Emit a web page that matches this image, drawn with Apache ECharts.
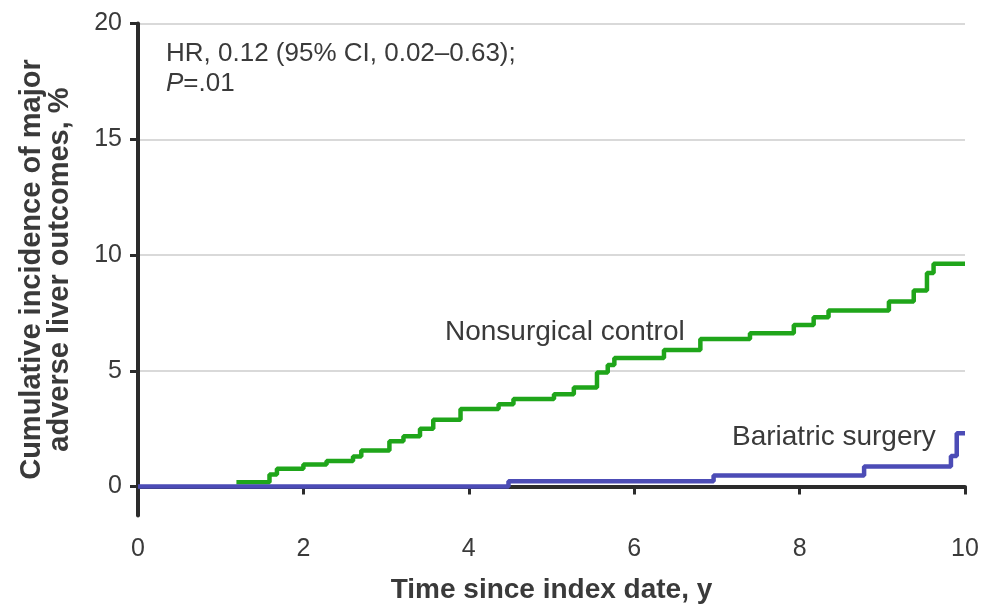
<!DOCTYPE html>
<html>
<head>
<meta charset="utf-8">
<script src="https://cdn.jsdelivr.net/npm/echarts@6/dist/echarts.min.js"></script>
<style>html,body{margin:0;padding:0;background:#fff;}#c{width:985px;height:604px;}</style>
</head>
<body>
<div id="c"></div>
<script>
// Nonsurgical control: [time (y), cumulative incidence (%)] at each step
const controlSteps = [
  [1.19,0.19],[1.59,0.52],[1.68,0.77],[2.0,0.95],[2.28,1.1],[2.6,1.3],[2.7,1.56],
  [3.04,1.96],[3.21,2.17],[3.41,2.5],[3.57,2.89],[3.9,3.35],[4.36,3.55],[4.54,3.78],
  [5.03,3.99],[5.27,4.28],[5.55,4.93],[5.68,5.25],[5.76,5.55],[6.36,5.9],[6.8,6.37],
  [7.4,6.62],[7.93,6.98],[8.17,7.31],[8.35,7.6],[9.08,7.99],[9.38,8.47],[9.54,9.22],
  [9.62,9.62],[10,9.62]
];
// Bariatric surgery
const surgerySteps = [
  [0,0],[4.48,0.23],[6.96,0.48],[8.78,0.87],[9.83,1.32],[9.9,2.3],[10,2.3]
];
const yTicks = [0,5,10,15,20];
const xTickInterval = 2;
const annotation = ['HR, 0.12 (95% CI, 0.02\u20130.63);', '=.01'];
const seriesNames = ['Nonsurgical control','Bariatric surgery'];
const xTitle = 'Time since index date, y';
const yTitle = ['Cumulative incidence of major','adverse liver outcomes, %'];

const FONT = 'Liberation Sans, Arial, Helvetica, sans-serif';
const TXT = '#3a3a3a';
const AX = '#2b2b2b';

const chart = echarts.init(document.getElementById('c'), null, {renderer:'canvas'});
chart.setOption({
  animation:false,
  backgroundColor:'#ffffff',
  textStyle:{fontFamily:FONT},
  grid:{left:138, right:20, top:23.5, bottom:88.5, containLabel:false, outerBoundsMode:'none'},
  title:[{
    left:161, top:34,
    text:'{a|'+annotation[0]+'}\n{i|P}{a|'+annotation[1]+'}',
    textStyle:{fontWeight:'normal',rich:{
      a:{fontFamily:FONT,fontSize:26,fontWeight:'normal',color:TXT,lineHeight:30},
      i:{fontFamily:FONT,fontSize:26,fontWeight:'normal',color:TXT,fontStyle:'italic',lineHeight:30}
    }}
  }],
  graphic:[
    {type:'text', left:445, top:318.5, style:{text:seriesNames[0], font:'28px '+FONT, fill:TXT}},
    {type:'text', left:732, top:423, style:{text:seriesNames[1], font:'28px '+FONT, fill:TXT}}
  ],
  xAxis:{
    type:'value', min:0, max:10, interval:xTickInterval,
    name:xTitle, nameLocation:'middle', nameGap:61,
    nameTextStyle:{fontFamily:FONT,fontSize:28,fontWeight:'bold',color:TXT},
    axisLine:{show:true,lineStyle:{color:AX,width:4}},
    axisTick:{show:true,inside:false,length:8,lineStyle:{color:AX,width:3}},
    axisLabel:{fontFamily:FONT,fontSize:25,color:TXT,margin:21},
    splitLine:{show:false}
  },
  yAxis:{
    type:'value', min:-1.25, max:20,
    name:yTitle.join('\n'), nameLocation:'middle', nameGap:64, nameRotate:90,
    nameTextStyle:{fontFamily:FONT,fontSize:29,fontWeight:'bold',color:TXT,lineHeight:28,align:'center'},
    axisLine:{show:true,onZero:false,lineStyle:{color:AX,width:4}},
    axisTick:{show:true,length:8,customValues:yTicks,lineStyle:{color:AX,width:3}},
    axisLabel:{fontFamily:FONT,fontSize:25,color:TXT,margin:16,customValues:yTicks},
    splitLine:{show:true,lineStyle:{color:'#d9d9d9',width:2}}
  },
  series:[
    {name:seriesNames[0], type:'line', step:'end', data:controlSteps, showSymbol:false, symbol:'none',
     lineStyle:{color:'#1fa51a',width:4.5}, z:3},
    {name:seriesNames[1], type:'line', step:'end', data:surgerySteps, showSymbol:false, symbol:'none',
     lineStyle:{color:'#4c4cb6',width:4.5}, z:4}
  ]
});
</script>
</body>
</html>
